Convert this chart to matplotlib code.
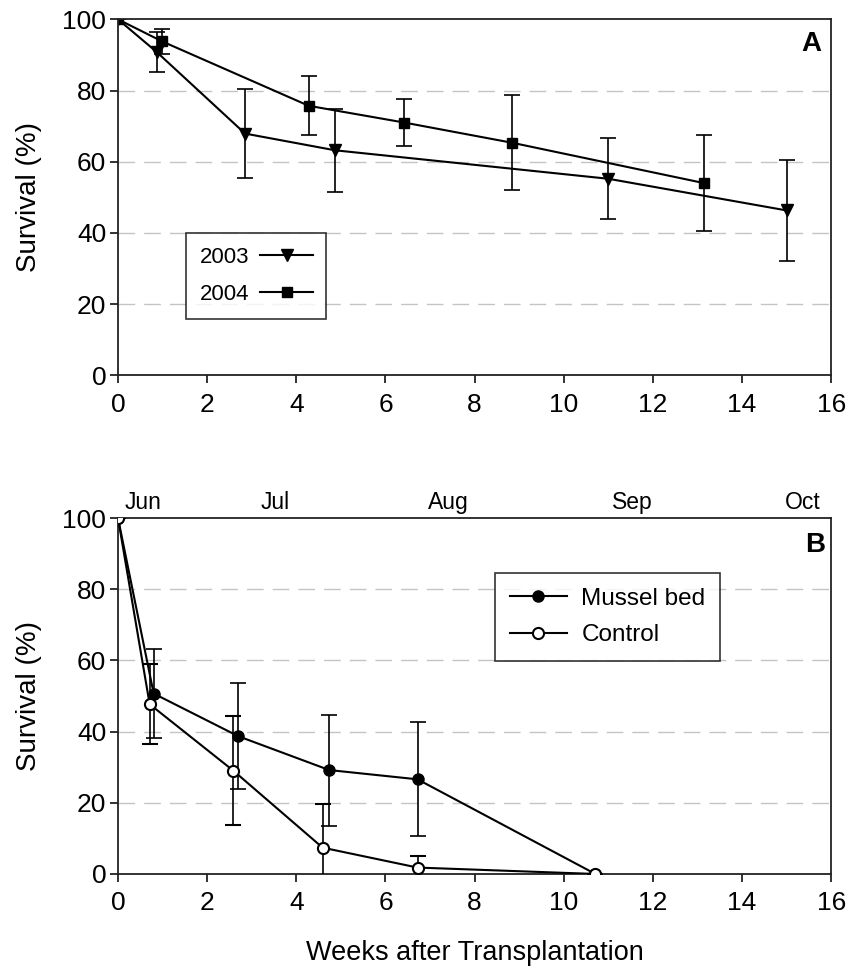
import numpy as np
import matplotlib.pyplot as plt

plt.rcParams['font.family'] = ['Liberation Sans', 'DejaVu Sans']

# panel A: survival by year
weeks_2003 = [0, 0.87, 2.85, 4.87, 11.0, 15.0]
surv_2003 = [100, 90.8, 67.9, 63.2, 55.2, 46.3]
err_2003 = [0, 5.6, 12.4, 11.6, 11.4, 14.3]

weeks_2004 = [0, 0.99, 4.28, 6.42, 8.85, 13.14]
surv_2004 = [100, 93.8, 75.7, 71.0, 65.3, 54.0]
err_2004 = [0, 3.4, 8.3, 6.7, 13.3, 13.6]

# panel B: mussel bed vs control
weeks_mussel = [0, 0.80, 2.70, 4.74, 6.72, 10.71]
surv_mussel = [100, 50.7, 38.7, 29.2, 26.6, 0]
err_mussel = [0, 12.4, 14.9, 15.6, 16.0, 0]

weeks_control = [0, 0.71, 2.59, 4.59, 6.72, 10.71]
surv_control = [100, 47.7, 29.0, 7.4, 1.8, 0]
err_control = [0, 11.3, 15.3, 12.2, 3.2, 0]

months = ['Jun', 'Jul', 'Aug', 'Sep', 'Oct']
month_pos = [0.56, 3.52, 7.4, 11.53, 15.37]

fig = plt.figure(figsize=(8.49, 9.67), dpi=100)
axA = fig.add_axes([0.139, 0.612, 0.840, 0.368])
axB = fig.add_axes([0.139, 0.0962, 0.840, 0.368])

ekw = dict(color='black', ecolor='black', elinewidth=1.2, capsize=6, capthick=1.2,
           linewidth=1.5, markeredgecolor='black')


def style_axis(ax):
    ax.set_xlim(0, 16)
    ax.set_ylim(0, 100)
    ax.set_xticks(np.arange(0, 17, 2))
    ax.set_yticks(np.arange(0, 101, 20))
    for y in [20, 40, 60, 80]:
        ax.axhline(y, color='#c4c4c4', lw=1.0, ls=(0, (12, 6.5)), zorder=0)
    for s in ax.spines.values():
        s.set_linewidth(1.3)
        s.set_color('#222222')
    ax.tick_params(direction='out', length=5.5, width=1.3, labelsize=19,
                   color='#222222')
    ax.tick_params(axis='x', pad=7)
    ax.tick_params(axis='y', pad=3)
    ax.set_ylabel('Survival (%)', fontsize=20)
    ax.yaxis.set_label_coords(-0.107, 0.5)


style_axis(axA)
c03 = axA.errorbar(weeks_2003, surv_2003, yerr=err_2003, marker='v', markersize=8,
                   markerfacecolor='black', **ekw)
c04 = axA.errorbar(weeks_2004, surv_2004, yerr=err_2004, marker='s', markersize=6.8,
                   markerfacecolor='black', **ekw)
legA = axA.legend([c03[0], c04[0]], ['2003', '2004'], loc='upper left',
                  bbox_to_anchor=(0.0954, 0.399), borderaxespad=0,
                  markerfirst=False, numpoints=1, fontsize=16, handlelength=2.35,
                  frameon=True, fancybox=False, edgecolor='black',
                  borderpad=0.62, labelspacing=0.73, handletextpad=0.5)
legA.get_frame().set_linewidth(1.2)
axA.text(0.972, 0.93, 'A', transform=axA.transAxes, fontsize=20,
         fontweight='bold', ha='center', va='center')

style_axis(axB)
cm = axB.errorbar(weeks_mussel, surv_mussel, yerr=err_mussel, marker='o', markersize=8,
                  markerfacecolor='black', zorder=3, **ekw)
cc = axB.errorbar(weeks_control, surv_control, yerr=err_control, marker='o', markersize=8,
                  markerfacecolor='white', markeredgewidth=1.5, zorder=4, **ekw)
legB = axB.legend([cm[0], cc[0]], ['Mussel bed', 'Control'], loc='upper left',
                  bbox_to_anchor=(0.5288, 0.8455), borderaxespad=0,
                  numpoints=1, fontsize=17.5, handlelength=2.35,
                  frameon=True, fancybox=False, edgecolor='black',
                  borderpad=0.6, labelspacing=0.6, handletextpad=0.6)
legB.get_frame().set_linewidth(1.2)
axB.text(0.978, 0.924, 'B', transform=axB.transAxes, fontsize=20,
         fontweight='bold', ha='center', va='center')
for m, p in zip(months, month_pos):
    axB.text(p, 1.045, m, transform=axB.get_xaxis_transform(), fontsize=16.5,
             ha='center', va='center')
axB.set_xlabel('Weeks after Transplantation', fontsize=19.5)
axB.xaxis.set_label_coords(0.5, -0.185)

fig.savefig('out.png', dpi=100)
